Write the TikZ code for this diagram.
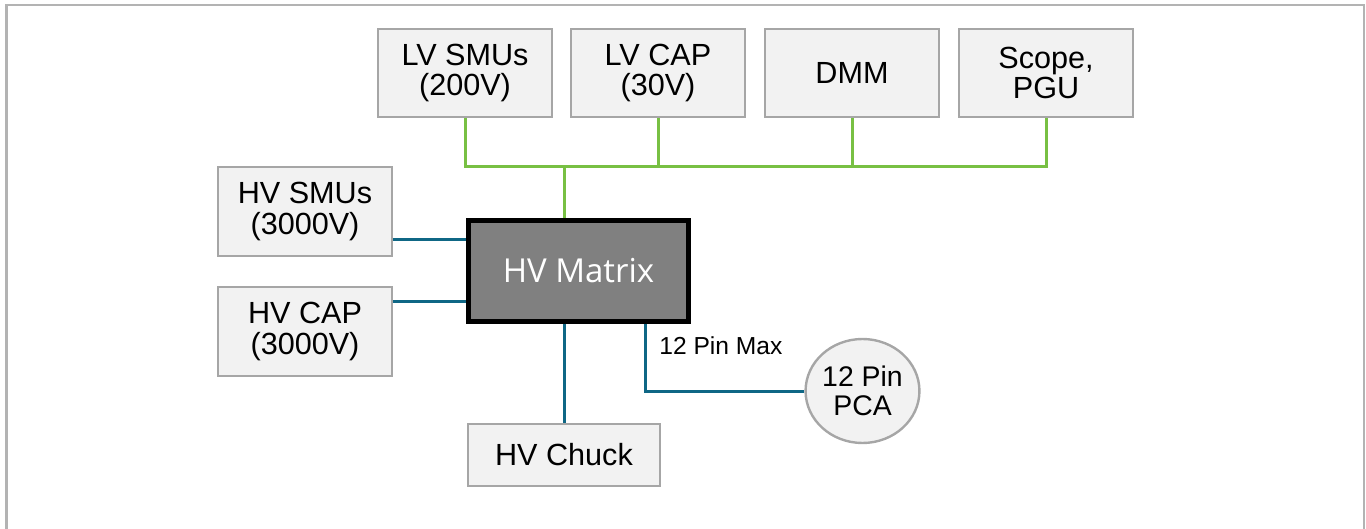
\documentclass[tikz,border=0pt]{standalone}
\usepackage{fontspec}
\setmainfont{Liberation Sans}
\newfontfamily\matrixfont{Open Sans}
\usetikzlibrary{shapes.geometric,calc}
\definecolor{boxfill}{HTML}{F2F2F2}
\definecolor{boxdraw}{HTML}{A6A6A6}
\definecolor{busgreen}{HTML}{78C043}
\definecolor{hvblue}{HTML}{0F6785}
\definecolor{framegrey}{HTML}{B3B3B3}
\definecolor{matfill}{HTML}{808080}
\begin{document}
\begin{tikzpicture}[x=0.5pt,y=-0.5pt,
  instbox/.style={draw=boxdraw,fill=boxfill,line width=1.2pt,inner sep=0pt,align=center,
    font=\fontsize{15.3}{15.3}\selectfont,minimum width=87pt,minimum height=44pt},
  greenline/.style={draw=busgreen,line width=1.5pt},
  blueline/.style={draw=hvblue,line width=1.5pt},
]
\useasboundingbox (0,0) rectangle (1366,529);
\clip (0,0) rectangle (1366,529);
% frame
\draw[framegrey,line width=1.1pt] (6.5,540) -- (6.5,5) -- (1364,5) -- (1364,540);
% top instruments
\node[instbox] (lvsmu) at (465,73) {LV SMUs\\(200V)};
\node[instbox] (lvcap) at (658,73) {LV CAP\\(30V)};
\node[instbox] (dmm) at (852,73) {DMM};
\node[instbox] (scope) at (1046,73) {Scope,\\PGU};
% left instruments
\node[instbox,minimum height=44.5pt] (hvsmu) at (305,211.5) {HV SMUs\\(3000V)};
\node[instbox,minimum height=44.5pt] (hvcap) at (305,331.5) {HV CAP\\(3000V)};
% matrix
\node[draw=black,fill=matfill,line width=2.5pt,minimum width=110pt,minimum height=50.5pt,
  inner sep=0pt,text=white,font=\matrixfont\fontsize{16.5}{16.5}\selectfont] (hvm) at (578.5,271) {HV Matrix};
% chuck
\node[instbox,minimum width=96pt,minimum height=31pt] (chuck) at (564,455) {HV Chuck};
% PCA
\node[ellipse,draw=boxdraw,fill=boxfill,line width=1.2pt,inner sep=0pt,align=center,
  minimum width=54.5pt,minimum height=52pt,font=\fontsize{14.2}{14.2}\selectfont] (pca) at (862.5,391) {12 Pin\\PCA};
% green bus
\coordinate (bus) at (564,167);
\draw[greenline] (lvsmu.south) |- (scope.south |- bus) -- (scope.south);
\draw[greenline] (lvcap.south) -- (lvcap.south |- bus);
\draw[greenline] (dmm.south) -- (dmm.south |- bus);
\draw[greenline] (bus) -- (bus |- hvm.north);
% blue lines
\draw[blueline] (hvsmu.east |- 0,240) -- (hvm.west |- 0,240);
\draw[blueline] (hvcap.east |- 0,302) -- (hvm.west |- 0,302);
\draw[blueline] (chuck.north) -- (chuck.north |- hvm.south);
\coordinate (pinx) at (645.5,0);
\draw[blueline] (hvm.south -| pinx) |- (pca);
\node[anchor=base west,inner sep=0pt,font=\fontsize{12.3}{12.3}\selectfont] (pinmax) at (659,355) {12 Pin Max};
\end{tikzpicture}
\end{document}
